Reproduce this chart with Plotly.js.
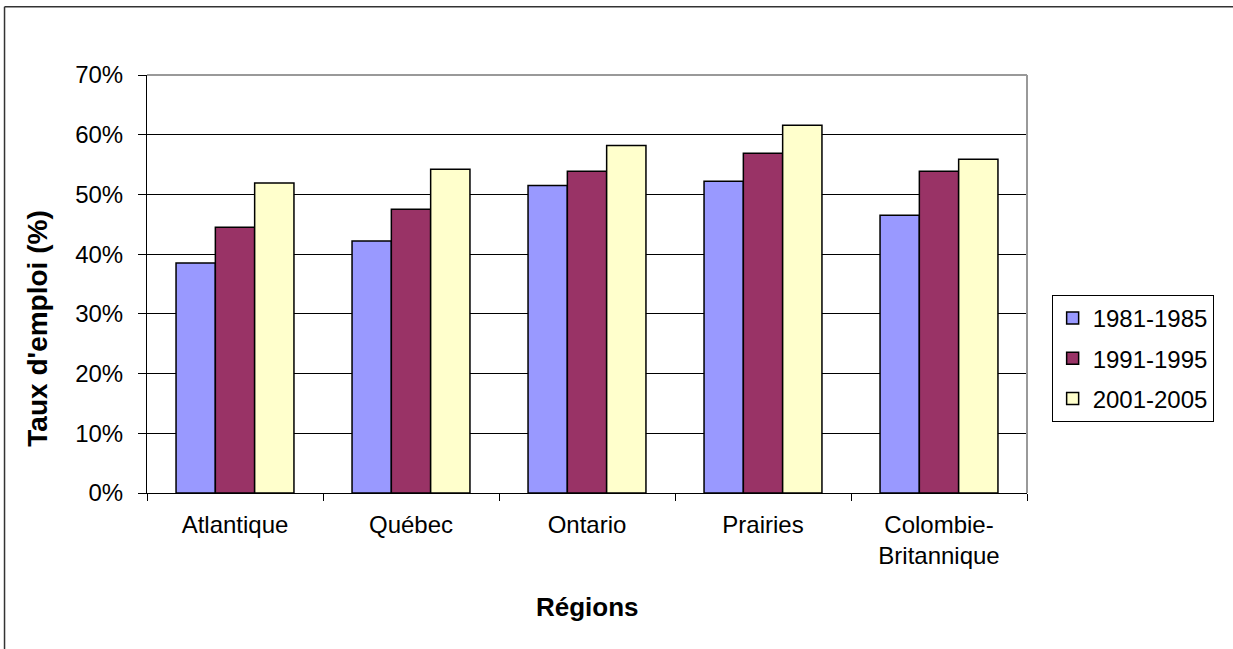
<!DOCTYPE html>
<html>
<head>
<meta charset="utf-8">
<script src="https://cdn.plot.ly/plotly-3.0.1.min.js"></script>
<style>html,body{margin:0;padding:0;background:#fff;}#chart{width:1233px;height:649px;}</style>
</head>
<body>
<div id="chart"></div>
<script>
var regions = ["Atlantique", "Québec", "Ontario", "Prairies", "Colombie-<br>Britannique"];
var seriesNames = ["1981-1985", "1991-1995", "2001-2005"];
var v1981 = [38.5, 42.2, 51.5, 52.2, 46.5];
var v1991 = [44.5, 47.5, 53.9, 56.9, 53.9];
var v2001 = [51.9, 54.2, 58.2, 61.6, 55.9];
var colors = ["#9999FF", "#993366", "#FFFFCC"];
var yTickVals = [0, 10, 20, 30, 40, 50, 60, 70];
var yTickText = ["0%", "10%", "20%", "30%", "40%", "50%", "60%", "70%"];

var FONT = "Liberation Sans, Arial, sans-serif";
var allVals = [v1981, v1991, v2001];
var traces = allVals.map(function (vals, i) {
  return {
    type: "bar",
    name: seriesNames[i],
    x: regions,
    y: vals,
    legendgroup: "g" + i,
    marker: { color: colors[i], line: { color: "#000", width: 1.5 } },
    hoverinfo: "x+y"
  };
});

var layout = {
  width: 1233,
  height: 649,
  margin: { l: 147, r: 206, t: 75, b: 156, pad: 0 },
  paper_bgcolor: "#fff",
  plot_bgcolor: "#fff",
  font: { family: FONT, size: 24, color: "#000" },
  barmode: "group",
  bargap: 0.33,
  bargroupgap: 0,
  showlegend: true,
  legend: {
    x: 1.028, xanchor: "left",
    y: 0.4737, yanchor: "top",
    bordercolor: "#000", borderwidth: 1,
    bgcolor: "#fff",
    font: { family: FONT, size: 24, color: "#000" },
    tracegroupgap: 6,
    traceorder: "grouped"
  },
  xaxis: {
    type: "category",
    tickson: "boundaries",
    ticks: "outside", ticklen: 7, tickcolor: "#000", tickwidth: 1,
    showline: true, linecolor: "#000", linewidth: 1,
    showgrid: false,
    ticklabelstandoff: 10,
    tickfont: { family: FONT, size: 24, color: "#000" },
    fixedrange: true
  },
  yaxis: {
    range: [0, 70],
    tickmode: "array",
    tickvals: yTickVals,
    ticktext: yTickText,
    ticks: "outside", ticklen: 8, tickcolor: "#000", tickwidth: 1,
    showline: true, linecolor: "#000", linewidth: 1,
    showgrid: true, gridcolor: "#000", gridwidth: 1,
    zeroline: false,
    ticklabelstandoff: 10,
    tickfont: { family: FONT, size: 24, color: "#000" },
    fixedrange: true
  },
  annotations: [
    {
      text: "<b>Taux d'emploi (%)</b>",
      xref: "paper", yref: "paper",
      x: -0.1244, y: 0.392,
      xanchor: "center", yanchor: "middle",
      textangle: -90, showarrow: false,
      font: { family: FONT, size: 28, color: "#000" }
    },
    {
      text: "<b>Régions</b>",
      xref: "paper", yref: "paper",
      x: 0.5, y: -0.272,
      xanchor: "center", yanchor: "middle",
      showarrow: false,
      font: { family: FONT, size: 26, color: "#000" }
    }
  ],
  shapes: [
    { type: "line", xref: "paper", yref: "paper", x0: 0, x1: 1, y0: 1, y1: 1,
      line: { color: "#999", width: 2 }, layer: "above" },
    { type: "line", xref: "paper", yref: "paper", x0: 1, x1: 1, y0: 0, y1: 1,
      line: { color: "#999", width: 2 }, layer: "above" },
    { type: "line", xref: "paper", yref: "paper", x0: -0.1619, x1: -0.1619, y0: 1.163, y1: -0.5,
      line: { color: "#333", width: 1.5 }, layer: "above" },
    { type: "line", xref: "paper", yref: "paper", x0: -0.1619, x1: 1.3, y0: 1.163, y1: 1.163,
      line: { color: "#333", width: 1.5 }, layer: "above" }
  ]
};

Plotly.newPlot("chart", traces, layout, { displayModeBar: false, staticPlot: true });
</script>
</body>
</html>
